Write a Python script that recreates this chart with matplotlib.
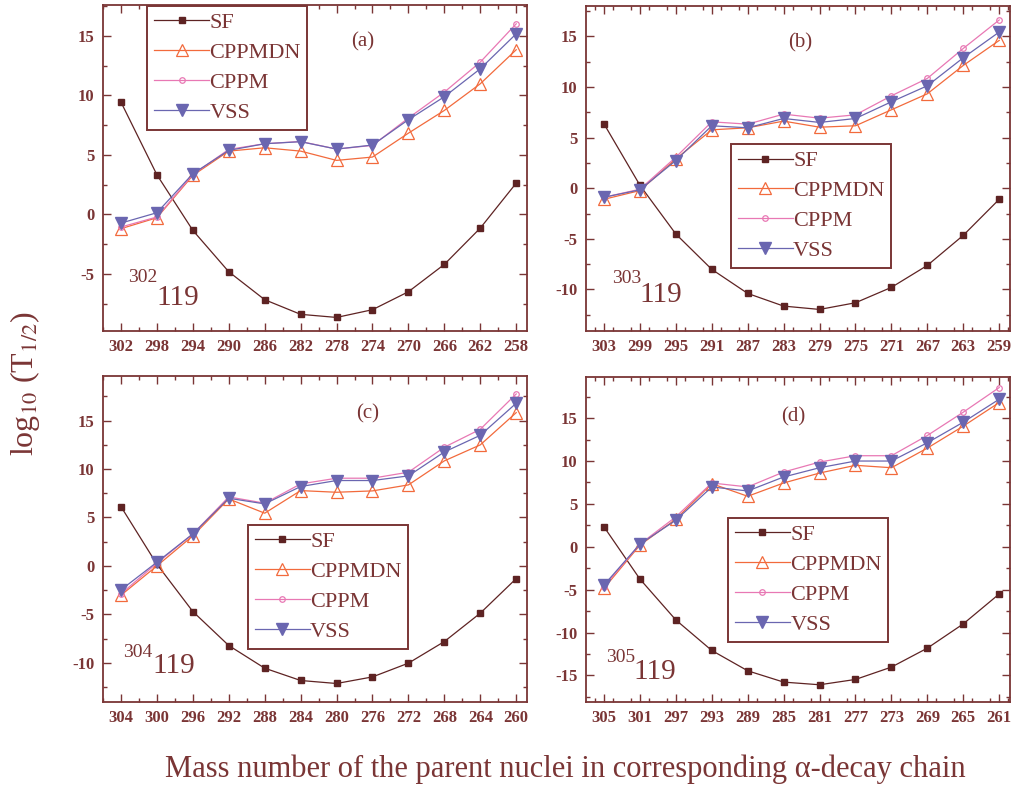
import matplotlib
matplotlib.use("Agg")
import matplotlib.pyplot as plt
from matplotlib.ticker import MultipleLocator

plt.rcParams['font.family'] = ['Liberation Serif', 'DejaVu Serif']
plt.rcParams['mathtext.fontset'] = 'stix'

# ---------------- data ----------------
mass_a = [302, 298, 294, 290, 286, 282, 278, 274, 270, 266, 262, 258]
sf_a = [9.44, 3.33, -1.34, -4.82, -7.17, -8.40, -8.66, -8.01, -6.50, -4.20, -1.15, 2.63]
cppmdn_a = [-1.20, -0.28, 3.28, 5.32, 5.60, 5.32, 4.54, 4.82, 6.83, 8.74, 10.98, 13.84]
cppm_a = [-1.06, -0.22, 3.36, 5.46, 5.94, 6.13, 5.49, 5.80, 8.10, 10.28, 12.80, 16.02]
vss_a = [-0.73, 0.14, 3.42, 5.38, 5.94, 6.11, 5.49, 5.83, 7.96, 9.89, 12.24, 15.18]

mass_b = [303, 299, 295, 291, 287, 283, 279, 275, 271, 267, 263, 259]
sf_b = [6.36, 0.30, -4.52, -8.01, -10.39, -11.64, -11.97, -11.31, -9.79, -7.62, -4.65, -1.09]
cppmdn_b = [-1.09, -0.23, 2.90, 5.77, 5.97, 6.63, 6.03, 6.17, 7.75, 9.33, 12.13, 14.60]
cppm_b = [-0.89, -0.10, 3.07, 6.56, 6.33, 7.32, 6.92, 7.25, 9.13, 10.85, 13.81, 16.62]
vss_b = [-0.89, -0.16, 2.74, 6.17, 5.97, 6.89, 6.50, 6.89, 8.54, 10.12, 12.89, 15.43]

mass_c = [304, 300, 296, 292, 288, 284, 280, 276, 272, 268, 264, 260]
sf_c = [6.12, 0.17, -4.71, -8.22, -10.56, -11.83, -12.14, -11.46, -10.04, -7.81, -4.88, -1.31]
cppmdn_c = [-3.03, 0.00, 3.10, 6.91, 5.44, 7.77, 7.60, 7.74, 8.36, 10.84, 12.49, 15.82]
cppm_c = [-2.89, 0.28, 3.30, 7.12, 6.47, 8.46, 9.05, 9.05, 9.67, 12.25, 14.10, 17.75]
vss_c = [-2.48, 0.38, 3.30, 6.98, 6.40, 8.19, 8.81, 8.81, 9.29, 11.76, 13.48, 16.79]

mass_d = [305, 301, 297, 293, 289, 285, 281, 277, 273, 269, 265, 261]
sf_d = [2.33, -3.76, -8.53, -12.09, -14.46, -15.78, -16.09, -15.47, -14.03, -11.82, -8.99, -5.50]
cppmdn_d = [-4.84, 0.19, 3.22, 7.36, 5.89, 7.44, 8.60, 9.50, 9.22, 11.51, 14.07, 16.82]
cppm_d = [-4.65, 0.31, 3.49, 7.44, 6.98, 8.72, 9.88, 10.62, 10.62, 12.98, 15.70, 18.57]
vss_d = [-4.46, 0.31, 3.10, 6.98, 6.51, 8.14, 9.22, 10.00, 10.00, 12.13, 14.53, 17.21]

series_labels = ['SF', 'CPPMDN', 'CPPM', 'VSS']
panel_tags = ['(a)', '(b)', '(c)', '(d)']
parents = ['302', '303', '304', '305']

# ---------------- styles ----------------
INK = '#7a3535'
C_SF = '#5e2323'
C_MDN = '#f26a3c'
C_CPPM = '#e878b4'
C_VSS = '#6a66b0'

fig = plt.figure(figsize=(10.16, 7.91), dpi=100)

W = 424 / 1016
rects = [
    (103 / 1016, 1 - 331 / 791, W, 326 / 791),
    (586 / 1016, 1 - 331 / 791, W, 325 / 791),
    (103 / 1016, 1 - 702 / 791, W, 326 / 791),
    (586 / 1016, 1 - 702 / 791, W, 325 / 791),
]
ylims = [(-9.8, 17.6), (-14.1, 18.0), (-14.05, 19.6), (-18.1, 19.8)]
legend_pos = [(0.104, 0.997), (0.342, 0.575), (0.342, 0.543), (0.335, 0.566)]
tag_pos = [(0.613, 0.887), (0.505, 0.886), (0.623, 0.883), (0.488, 0.877)]
sup_pos = [(0.059, 0.150), (0.061, 0.148), (0.047, 0.138), (0.047, 0.123)]
main_pos = [(0.127, 0.080), (0.127, 0.089), (0.116, 0.089), (0.113, 0.071)]

data = [
    (mass_a, sf_a, cppmdn_a, cppm_a, vss_a),
    (mass_b, sf_b, cppmdn_b, cppm_b, vss_b),
    (mass_c, sf_c, cppmdn_c, cppm_c, vss_c),
    (mass_d, sf_d, cppmdn_d, cppm_d, vss_d),
]

for i, (mass, sf, mdn, cppm, vss) in enumerate(data):
    ax = fig.add_axes(rects[i])
    ax.plot(mass, sf, color=C_SF, lw=0.9, marker='s', ms=4, mfc=C_SF, mec=C_SF,
            label=series_labels[0])
    ax.plot(mass, mdn, color=C_MDN, lw=0.9, marker='^', ms=8, mfc='none', mec=C_MDN,
            mew=0.9, label=series_labels[1])
    ax.plot(mass, cppm, color=C_CPPM, lw=0.9, marker='o', ms=4, mfc='none', mec=C_CPPM,
            mew=0.9, label=series_labels[2])
    ax.plot(mass, vss, color=C_VSS, lw=0.9, marker='v', ms=8, mfc=C_VSS, mec=C_VSS,
            label=series_labels[3])

    ax.set_xlim(mass[0] + 2, mass[-1] - 1.2)
    ax.set_xticks(mass)
    ax.set_xticklabels([str(m) for m in mass])
    ax.xaxis.set_minor_locator(MultipleLocator(2))
    ax.set_ylim(*ylims[i])
    ax.yaxis.set_major_locator(MultipleLocator(5))
    ax.yaxis.set_minor_locator(MultipleLocator(2.5))
    ax.yaxis.set_major_formatter(matplotlib.ticker.FuncFormatter(lambda v, p: '%d' % v))

    for s in ax.spines.values():
        s.set_color(INK)
        s.set_linewidth(1.3)
    ax.tick_params(which='both', direction='in', top=True, right=True, color=INK,
                   width=1.0)
    ax.tick_params(which='major', length=6, labelsize=12, labelcolor=INK, pad=6)
    ax.tick_params(which='minor', length=3)
    for lab in ax.get_xticklabels() + ax.get_yticklabels():
        lab.set_fontweight('bold')

    leg = ax.legend(loc='upper left', bbox_to_anchor=legend_pos[i], borderaxespad=0,
                    fontsize=16, handlelength=2.5, handletextpad=0.0, labelspacing=0.42,
                    borderpad=0.3, fancybox=False, framealpha=1, markerscale=1.0)
    leg.get_frame().set_edgecolor(INK)
    leg.get_frame().set_linewidth(1.4)
    for t in leg.get_texts():
        t.set_color(INK)

    ax.text(*tag_pos[i], panel_tags[i], transform=ax.transAxes, ha='center', va='center',
            fontsize=15, color=INK)
    ax.text(*sup_pos[i], parents[i], transform=ax.transAxes, ha='left', va='baseline',
            fontsize=14, color=INK)
    ax.text(*main_pos[i], '119', transform=ax.transAxes, ha='left', va='baseline',
            fontsize=21, color=INK)

fig.text(0.025, 0.515, r'log$_{10}$ (T$_{1/2}$)', rotation=90, ha='center', va='center',
         fontsize=23, color=INK)
fig.text(0.556, 0.027, 'Mass number of the parent nuclei in corresponding \u03b1-decay chain',
         ha='center', va='center', fontsize=22, color=INK)

fig.savefig('out.png', dpi=100)
